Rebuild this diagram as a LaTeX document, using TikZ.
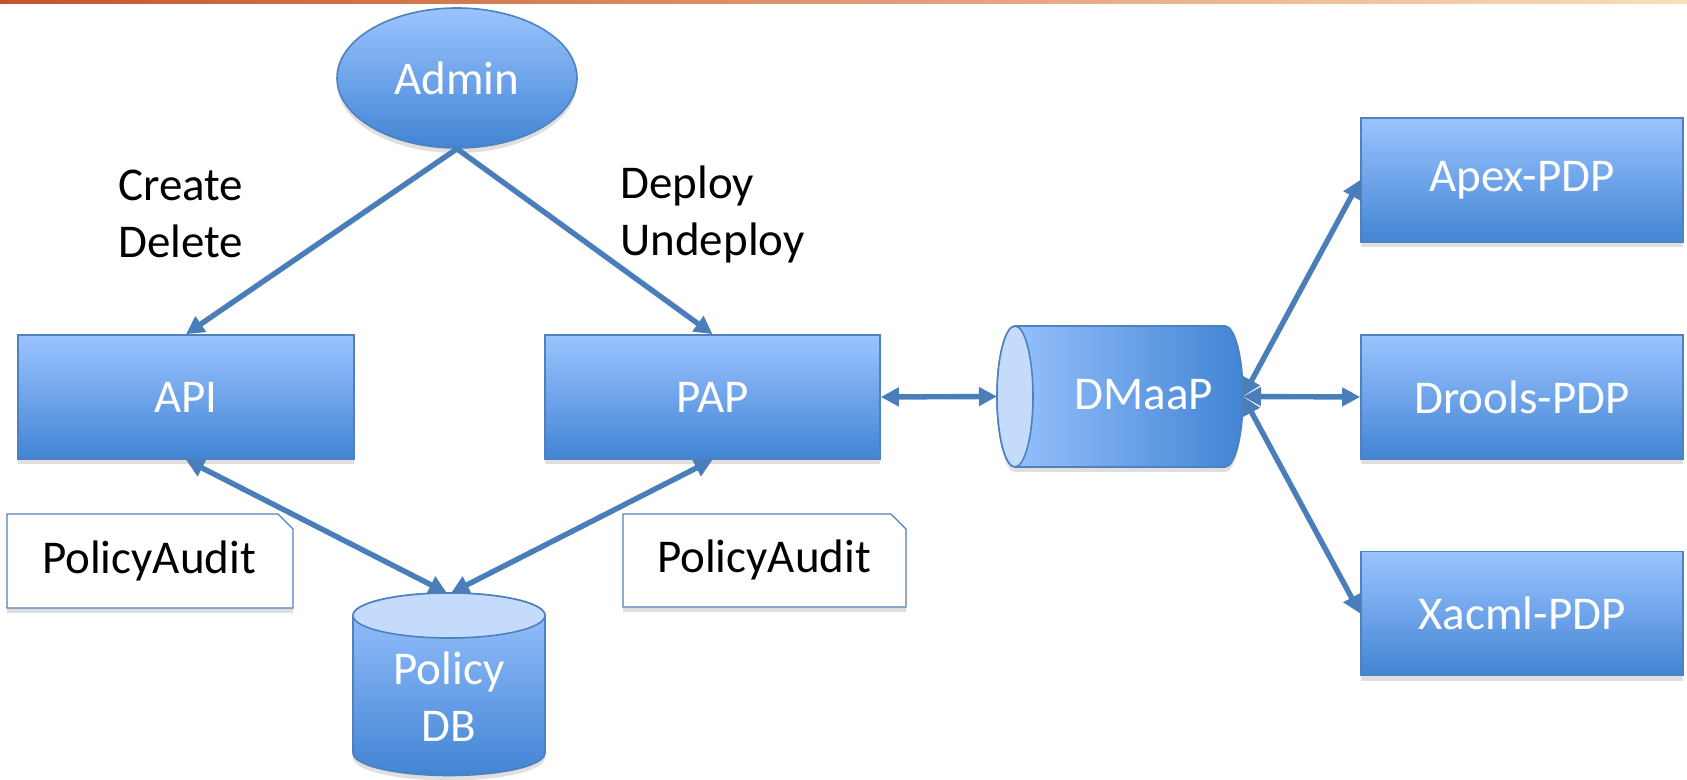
\documentclass[tikz,border=0pt]{standalone}
\usepackage{fontspec}
\setmainfont{Carlito}
\usetikzlibrary{arrows.meta,shapes.geometric,shadows,calc}
\definecolor{lineblue}{RGB}{74,126,187}
\definecolor{borderblue}{RGB}{79,129,189}
\definecolor{gtop}{RGB}{155,196,255}
\definecolor{gmid}{RGB}{128,174,240}
\definecolor{gbot}{RGB}{66,132,212}
\definecolor{facelight}{RGB}{196,219,252}
\definecolor{stripeA}{RGB}{196,84,44}
\definecolor{stripeB}{RGB}{236,150,80}
\definecolor{stripeC}{RGB}{250,222,186}
\newcommand\myfontsz{\fontsize{23.5}{28.5}\selectfont}
\tikzset{
  shade/.style={drop shadow={shadow xshift=0pt, shadow yshift=-2.5pt, opacity=0.25}},
  bluebox/.style={draw=borderblue, line width=0.8pt, top color=gtop, middle color=gmid, bottom color=gbot,
    text=white, font=\myfontsz, inner sep=0pt, shade},
  pdpbox/.style={bluebox, minimum width=161pt, minimum height=62pt},
  notebox/.style={draw=borderblue, line width=0.6pt, fill=white, shade},
  notetext/.style={font=\myfontsz, text=black, inner sep=0pt},
  lbl/.style={font=\myfontsz, text=black, align=left, inner sep=0pt},
  conn/.style={draw=lineblue, line width=2.7pt, {Triangle[length=9pt,width=9pt]}-{Triangle[length=9pt,width=9pt]}},
  conn1/.style={draw=lineblue, line width=2.7pt, -{Triangle[length=9pt,width=9pt]}},
  hold/.style={inner sep=0pt, outer sep=0pt}
}
\begin{document}
\begin{tikzpicture}[x=0.5pt,y=-0.5pt]
\useasboundingbox (0,0) rectangle (1687,780);
\fill[white] (0,0) rectangle (1687,780);
% top stripe
\fill[left color=stripeA, middle color=stripeB, right color=stripeC] (0,0) rectangle (1687,4);

% Admin
\node[bluebox, ellipse, minimum width=120pt, minimum height=70pt] (admin) at (457,78) {Admin};

% boxes
\node[bluebox, minimum width=168pt, minimum height=62pt] (api) at (186,397) {API};
\node[bluebox, minimum width=167.5pt, minimum height=62pt] (pap) at (712.5,397) {PAP};
\node[pdpbox] (apex) at (1522,180) {Apex-PDP};
\node[pdpbox] (drools) at (1522,397) {Drools-PDP};
\node[pdpbox] (xacml) at (1522,613.5) {Xacml-PDP};

% DMaaP cylinder (horizontal)
\path[draw=borderblue, line width=0.8pt, left color=gtop, right color=gbot, shade]
  (1015,326) -- (1225,326) arc[start angle=-90, end angle=90, x radius=18, y radius=70.5]
  -- (1015,467) arc[start angle=90, end angle=270, x radius=18, y radius=70.5] -- cycle;
\path[draw=borderblue, line width=0.8pt, fill=facelight] (1015,396.5) ellipse[x radius=18, y radius=70.5];
\node[hold, minimum width=123pt, minimum height=70.5pt] (dmaap) at (1120,396.5) {};
\node[font=\myfontsz, text=white, inner sep=0pt] (dmaaptext) at (1144,395) {DMaaP};

% Policy DB cylinder (vertical)
\path[draw=borderblue, line width=0.8pt, top color=gtop, middle color=gmid, bottom color=gbot, shade]
  (353,615.5) -- (353,753) arc[start angle=180, end angle=0, x radius=96, y radius=22.5]
  -- (545,615.5) arc[start angle=0, end angle=-180, x radius=96, y radius=22.5] -- cycle;
\path[draw=borderblue, line width=0.8pt, fill=facelight] (449,615.5) ellipse[x radius=96, y radius=22.5];
\node[hold, minimum width=96pt, minimum height=92pt] (db) at (449,685) {};
\node[font=\myfontsz, text=white, align=center, inner sep=0pt] (dbtext) at (449,697) {Policy\\DB};

% notes
\draw[notebox] (7,514) -- (278,514) -- (293,529) -- (293,608) -- (7,608) -- cycle;
\node[notetext] (audit1) at (149,561) {PolicyAudit};
\draw[notebox] (623,514) -- (891,514) -- (906,529) -- (906,607) -- (623,607) -- cycle;
\node[notetext] (audit2) at (764,560) {PolicyAudit};

% labels
\node[lbl, anchor=west] (cd) at (118,214) {Create\\Delete};
\node[lbl, anchor=west] (du) at (620,214) {Deploy\\Undeploy};

% connectors
\draw[conn1] (admin.south) -- (api.north);
\draw[conn1] (admin.south) -- (pap.north);
\draw[conn] (api.south) -- ([xshift=-1pt]db.north);
\draw[conn] (pap.south) -- ([xshift=1pt]db.north);
\draw[conn] (pap.east) -- (dmaap.west);
\draw[conn] (dmaap.east) -- (drools.west);
\draw[conn] (dmaap.east) -- (apex.west);
\draw[conn] (dmaap.east) -- (xacml.west);
\end{tikzpicture}
\end{document}
